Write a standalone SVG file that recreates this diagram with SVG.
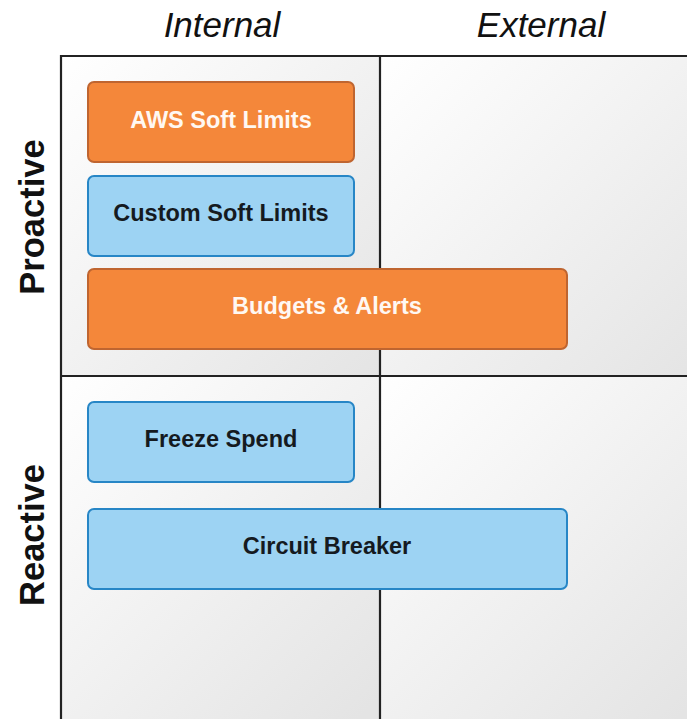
<svg xmlns="http://www.w3.org/2000/svg" width="687" height="719" viewBox="0 0 687 719">
  <style>
    .hdr { font-family: "Liberation Sans", Arial, sans-serif; font-style: italic; font-size: 35px; fill: #111; text-anchor: middle; }
    .side { font-family: "Liberation Sans", Arial, sans-serif; font-weight: bold; font-size: 34.5px; fill: #111; text-anchor: middle; }
    .lbl { font-family: "Liberation Sans", Arial, sans-serif; font-weight: bold; font-size: 23.5px; text-anchor: middle; }
    .orange rect { fill: #F4873A; stroke: #BF6530; stroke-width: 2; }
    .orange text { fill: #FFF8F2; }
    .blue rect { fill: #9DD3F3; stroke: #2786C6; stroke-width: 2; }
    .blue text { fill: #151a1f; }
    .grid line { stroke: #222; stroke-width: 2.2; }
  </style>
  <defs>
    <linearGradient id="cellFill" gradientUnits="userSpaceOnUse" x1="0" y1="0" x2="320" y2="320">
      <stop offset="0" stop-color="#FFFFFF"/>
      <stop offset="1" stop-color="#E4E4E4"/>
    </linearGradient>
  </defs>
  <rect width="687" height="719" fill="#FFFFFF"/>

  <!-- quadrant backgrounds, each with its own diagonal shading -->
  <g id="quadrants">
    <rect x="0" y="0" width="319" height="320" fill="url(#cellFill)" transform="translate(61,56)"/>
    <rect x="0" y="0" width="330" height="320" fill="url(#cellFill)" transform="translate(380,56)"/>
    <rect x="0" y="0" width="319" height="360" fill="url(#cellFill)" transform="translate(61,376)"/>
    <rect x="0" y="0" width="330" height="360" fill="url(#cellFill)" transform="translate(380,376)"/>
  </g>

  <!-- grid lines -->
  <g id="connectors" class="grid">
    <line x1="60" y1="56" x2="687" y2="56"/>
    <line x1="61" y1="55" x2="61" y2="719"/>
    <line x1="380" y1="55" x2="380" y2="719"/>
    <line x1="60" y1="376" x2="687" y2="376"/>
  </g>

  <!-- axis headings -->
  <text class="hdr" x="222" y="37">Internal</text>
  <text class="hdr" x="541" y="37">External</text>
  <text class="side" transform="translate(44,217) rotate(-90)">Proactive</text>
  <text class="side" transform="translate(44,535) rotate(-90)">Reactive</text>

  <g id="aws-soft-limits" class="orange">
    <rect x="88" y="82" width="266" height="80" rx="6"/>
    <text class="lbl" x="221" y="127.5">AWS Soft Limits</text>
  </g>
  <g id="custom-soft-limits" class="blue">
    <rect x="88" y="176" width="266" height="80" rx="6"/>
    <text class="lbl" x="221" y="221">Custom Soft Limits</text>
  </g>
  <g id="budgets-alerts" class="orange">
    <rect x="88" y="269" width="479" height="80" rx="6"/>
    <text class="lbl" x="327" y="314">Budgets &amp; Alerts</text>
  </g>
  <g id="freeze-spend" class="blue">
    <rect x="88" y="402" width="266" height="80" rx="6"/>
    <text class="lbl" x="221" y="447">Freeze Spend</text>
  </g>
  <g id="circuit-breaker" class="blue">
    <rect x="88" y="509" width="479" height="80" rx="6"/>
    <text class="lbl" x="327" y="554">Circuit Breaker</text>
  </g>
</svg>
